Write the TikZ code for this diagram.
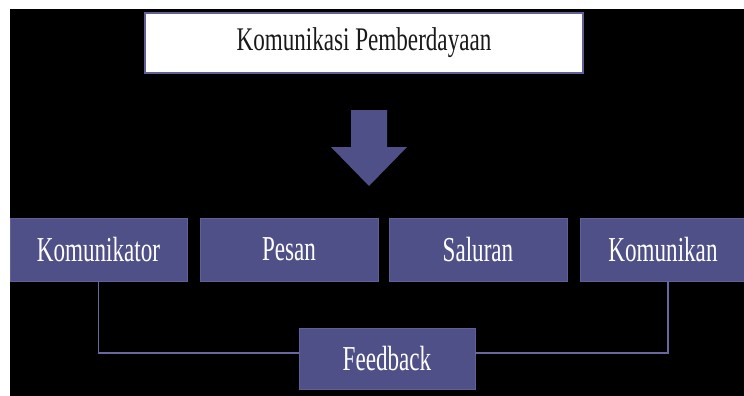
\documentclass[tikz,border=0pt]{standalone}
\usepackage{fontspec}
\usepackage{graphicx}
\setmainfont{Liberation Serif}
\definecolor{boxfill}{RGB}{80,80,136}
\definecolor{boxline}{RGB}{96,96,150}
\definecolor{linecol}{RGB}{104,104,160}
\definecolor{titletext}{RGB}{25,25,25}
\newcommand{\btxt}[1]{\scalebox{0.66}[1]{\fontsize{35}{40}\selectfont #1}}
\newcommand{\ttxt}[1]{\scalebox{0.70}[1]{\fontsize{33}{38}\selectfont #1}}
\tikzset{
  bluebox/.style={fill=boxfill, draw=boxline, line width=0.8pt, text=white, inner sep=0pt, minimum height=63pt, anchor=center},
  titlebox/.style={fill=white, draw=boxline, line width=1.5pt, text=titletext, inner sep=0pt, minimum width=438pt, minimum height=60pt},
  conn/.style={draw=linecol, line width=1.4pt}
}
\begin{document}
\begin{tikzpicture}[x=1pt,y=-1pt]
\useasboundingbox (0,0) rectangle (744,396);
\fill[white] (0,0) rectangle (744,396);
\fill[black] (10,9) rectangle (744,396);
\node[titlebox] (title) at (364,43) {\ttxt{Komunikasi Pemberdayaan}};
\fill[boxfill] (351,110) -- (387,110) -- (387,147) -- (407,147) -- (369,186) -- (331,147) -- (351,147) -- cycle;
\node[bluebox, minimum width=177pt] (kom) at (98.5,249.5) {\btxt{Komunikator}};
\node[bluebox, minimum width=178pt] (pes) at (289,249.5) {\btxt{Pesan}};
\node[bluebox, minimum width=178pt] (sal) at (478,249.5) {\btxt{Saluran}};
\node[bluebox, minimum width=166pt] (kmn) at (663,249.5) {\btxt{Komunikan}};
\node[bluebox, minimum width=176pt, minimum height=61pt] (fb) at (387,358.5) {\btxt{Feedback}};
\draw[conn] (kom.south) |- ([yshift=5.5pt]fb.west);
\draw[conn] ([yshift=5.5pt]fb.east) -| ([xshift=5pt]kmn.south);
\end{tikzpicture}
\end{document}
